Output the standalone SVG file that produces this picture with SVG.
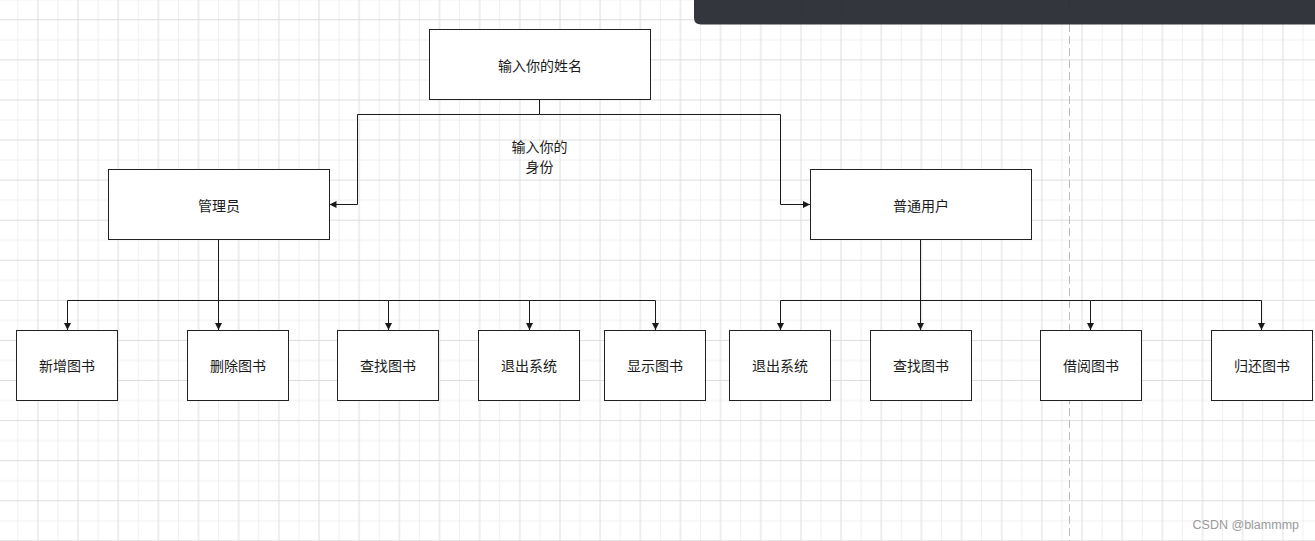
<svg xmlns="http://www.w3.org/2000/svg" width="1315" height="541" viewBox="0 0 1315 541">
<style>
.box{fill:#ffffff;stroke:#222222;stroke-width:1}
.t{font-family:"Noto Sans CJK SC","Noto Sans",sans-serif;font-size:14px;fill:#1a1a1a;text-anchor:middle}
.c{fill:none;stroke:#1a1a1a;stroke-width:1}
</style>
<defs>
<pattern id="grid" patternUnits="userSpaceOnUse" x="17.3" y="19.3" width="40.16" height="40.08">
<line x1="0.5" y1="0" x2="0.5" y2="40.08" stroke="#efefef" stroke-width="1"/>
<line x1="0" y1="20.54" x2="40.16" y2="20.54" stroke="#efefef" stroke-width="1"/>
<line x1="20.58" y1="0" x2="20.58" y2="40.08" stroke="#dddddd" stroke-width="1"/>
<line x1="0" y1="0.5" x2="40.16" y2="0.5" stroke="#dddddd" stroke-width="1"/>
</pattern>
<marker id="arr" markerUnits="userSpaceOnUse" markerWidth="8" markerHeight="8" refX="7" refY="3.5" orient="auto">
<path d="M0,0 L7,3.5 L0,7 z" fill="#1a1a1a"/>
</marker>
</defs>
<rect x="0" y="0" width="1315" height="541" fill="#ffffff"/>
<rect x="0" y="0" width="1315" height="541" fill="url(#grid)"/>
<line x1="1069.5" y1="0" x2="1069.5" y2="541" stroke="#bbbbbb" stroke-width="1" stroke-dasharray="8,4"/>
<g id="connectors">
<path class="c" d="M539.5,99.5 V114.5 H357.5 V204.5 H329.5" marker-end="url(#arr)"/>
<path class="c" d="M539.5,114.5 H780.5 V204.5 H810" marker-end="url(#arr)"/>
<path class="c" d="M218.5,239.5 V330" marker-end="url(#arr)"/>
<path class="c" d="M218.5,300.5 H67.5 V330" marker-end="url(#arr)"/>
<path class="c" d="M218.5,300.5 H388.5 V330" marker-end="url(#arr)"/>
<path class="c" d="M388.5,300.5 H529.5 V330" marker-end="url(#arr)"/>
<path class="c" d="M529.5,300.5 H655.5 V330" marker-end="url(#arr)"/>
<path class="c" d="M920.5,239.5 V330" marker-end="url(#arr)"/>
<path class="c" d="M920.5,300.5 H780.5 V330" marker-end="url(#arr)"/>
<path class="c" d="M920.5,300.5 H1090.5 V330" marker-end="url(#arr)"/>
<path class="c" d="M1090.5,300.5 H1261.5 V330" marker-end="url(#arr)"/>
</g>
<g id="label-identity">
<text class="t" x="539.5" y="151.5">输入你的</text>
<text class="t" x="539.5" y="172">身份</text>
</g>
<g id="node-name"><rect class="box" x="429.5" y="29.5" width="221" height="70"/><text class="t" x="540" y="71">输入你的姓名</text></g>
<g id="node-admin"><rect class="box" x="108.5" y="169.5" width="221" height="70"/><text class="t" x="219" y="211">管理员</text></g>
<g id="node-user"><rect class="box" x="810.5" y="169.5" width="221" height="70"/><text class="t" x="921" y="211">普通用户</text></g>
<g id="node-add"><rect class="box" x="16.5" y="330.5" width="101" height="70"/><text class="t" x="67" y="371">新增图书</text></g>
<g id="node-delete"><rect class="box" x="187.5" y="330.5" width="101" height="70"/><text class="t" x="238" y="371">删除图书</text></g>
<g id="node-find-admin"><rect class="box" x="337.5" y="330.5" width="101" height="70"/><text class="t" x="388" y="371">查找图书</text></g>
<g id="node-exit-admin"><rect class="box" x="478.5" y="330.5" width="101" height="70"/><text class="t" x="529" y="371">退出系统</text></g>
<g id="node-show"><rect class="box" x="604.5" y="330.5" width="101" height="70"/><text class="t" x="655" y="371">显示图书</text></g>
<g id="node-exit-user"><rect class="box" x="729.5" y="330.5" width="101" height="70"/><text class="t" x="780" y="371">退出系统</text></g>
<g id="node-find-user"><rect class="box" x="870.5" y="330.5" width="101" height="70"/><text class="t" x="921" y="371">查找图书</text></g>
<g id="node-borrow"><rect class="box" x="1040.5" y="330.5" width="101" height="70"/><text class="t" x="1091" y="371">借阅图书</text></g>
<g id="node-return"><rect class="box" x="1211.5" y="330.5" width="101" height="70"/><text class="t" x="1262" y="371">归还图书</text></g>
<path d="M694,0 H1315 V24.5 H701 Q694,24.5 694,17.5 Z" fill="#262a31" fill-opacity="0.94"/>
<text x="1299" y="529" font-family="'Liberation Sans',Arial,sans-serif" font-size="12.5" fill="#9a9a9a" text-anchor="end">CSDN @blammmp</text>
</svg>
